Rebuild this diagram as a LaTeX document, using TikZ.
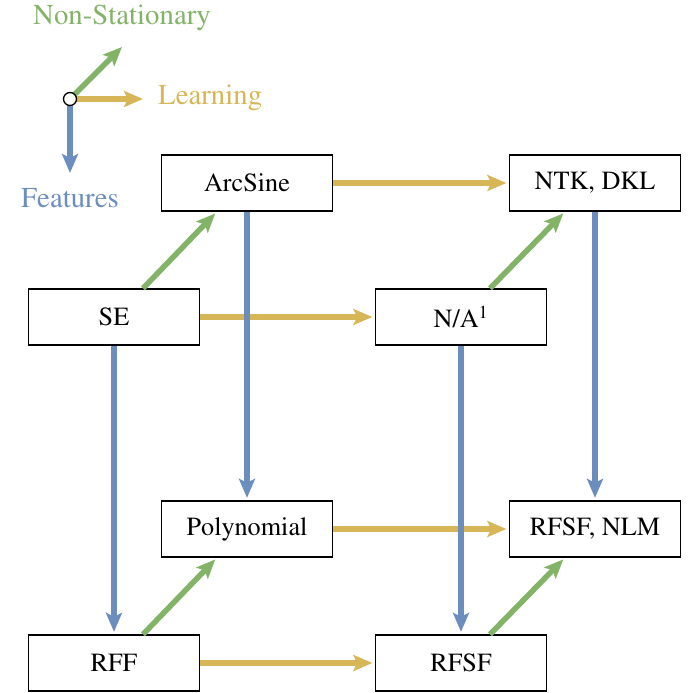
\documentclass[tikz,border=0pt]{standalone}
\usepackage[T1]{fontenc}
\usepackage{times}
\usetikzlibrary{arrows.meta}
\definecolor{cgreen}{HTML}{82B366}
\definecolor{cgold}{HTML}{D6B656}
\definecolor{cblue}{HTML}{6C8EBF}
\begin{document}
\begin{tikzpicture}[x=1pt,y=-1pt,
  box/.style={draw=black, line width=1.3pt, fill=white, minimum width=171pt, minimum height=56pt, inner sep=0pt, font=\fontsize{26.2}{31}\selectfont},
  conn/.style={line width=5.5pt, -{Stealth[length=19pt,width=16pt,inset=4pt]}},
  gconn/.style={conn, draw=cgreen, shorten >=2.5pt},
  yconn/.style={conn, draw=cgold, shorten >=2.5pt},
  bconn/.style={conn, draw=cblue, shorten >=2.5pt},
  leg/.style={font=\fontsize{28.8}{34}\selectfont, inner sep=0pt}
]
\useasboundingbox (0,0) rectangle (692,693);

% nodes
\node[box] (arc) at (247,183) {ArcSine};
\node[box] (ntk) at (595,183) {NTK, DKL};
\node[box] (se) at (114,317) {SE};
\node[box] (na) at (461,317) {N/A\textsuperscript{1}};
\node[box] (poly) at (247,529) {Polynomial};
\node[box] (nlm) at (595,529) {RFSF, NLM};
\node[box] (rff) at (114,663) {RFF};
\node[box] (rfsf) at (461,663) {RFSF};

% learning (gold)
\draw[yconn] (arc.east) -- (ntk.west);
\draw[yconn] (se.east) -- (na.west);
\draw[yconn] (poly.east) -- (nlm.west);
\draw[yconn] (rff.east) -- (rfsf.west);

% non-stationary (green)
\draw[gconn] ([xshift=29pt]se.north) -- ([xshift=-30pt]arc.south);
\draw[gconn] ([xshift=29pt]na.north) -- ([xshift=-30pt]ntk.south);
\draw[gconn] ([xshift=29pt]rff.north) -- ([xshift=-30pt]poly.south);
\draw[gconn] ([xshift=29pt]rfsf.north) -- ([xshift=-30pt]nlm.south);

% features (blue)
\draw[bconn] (arc.south) -- (poly.north);
\draw[bconn] (ntk.south) -- (nlm.north);
\draw[bconn] (se.south) -- (rff.north);
\draw[bconn] (na.south) -- (rfsf.north);

% legend
\coordinate (o) at (70,99);
\coordinate (lg) at (122,47);
\coordinate (ly) at (143,99);
\coordinate (lb) at (70,173);
\draw[conn, draw=cgreen] (o) -- (lg);
\draw[conn, draw=cgold] (o) -- (ly);
\draw[conn, draw=cblue] (o) -- (lb);
\node[circle, draw=black, fill=white, line width=1.3pt, minimum size=13pt, inner sep=0pt] (oc) at (o) {};
\node[leg, text=cgreen] (tns) at (122,18) {Non-Stationary};
\node[leg, text=cgold, anchor=west] (tl) at (158,98) {Learning};
\node[leg, text=cblue] (tf) at (70,198) {Features};
\end{tikzpicture}
\end{document}
